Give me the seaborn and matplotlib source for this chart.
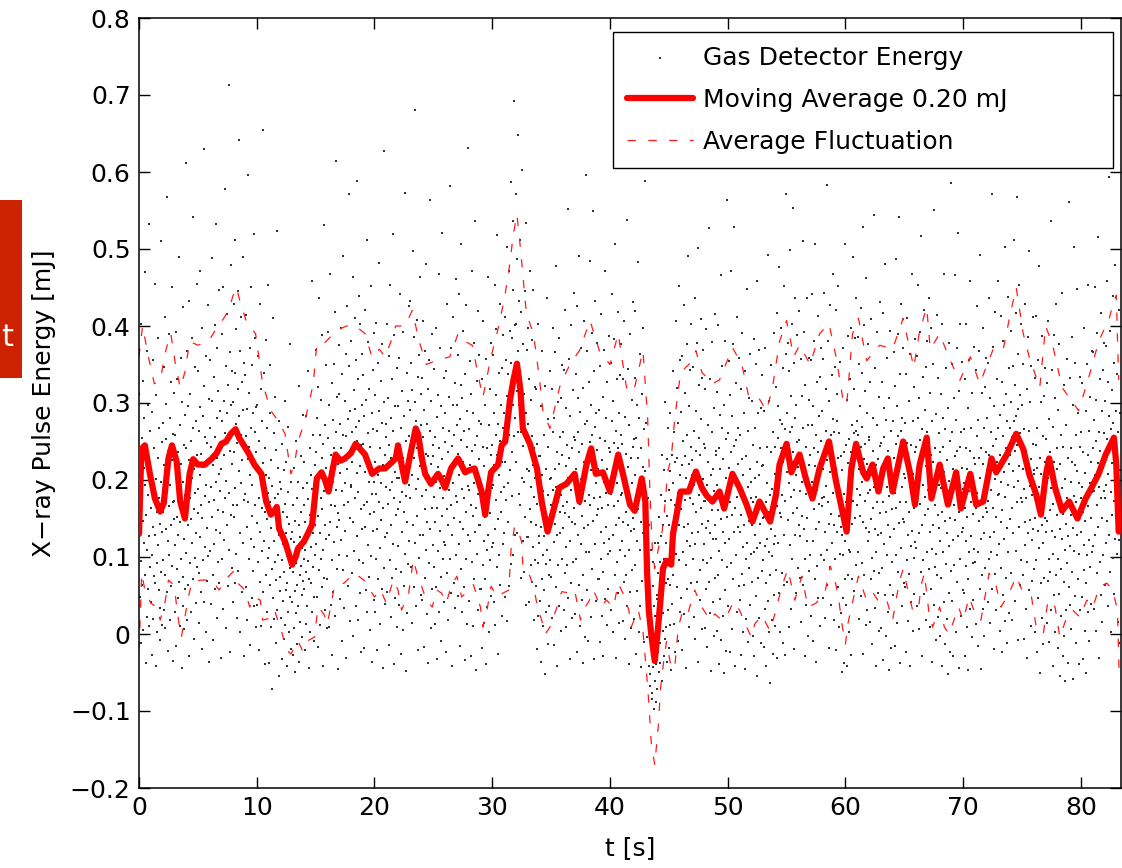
import numpy as np
import pandas as pd
import matplotlib
matplotlib.use("Agg")
import matplotlib.pyplot as plt
from matplotlib.patches import Rectangle
import seaborn as sns

# Gas detector shot energies in µJ, 36 recorded shots per second, one row per second
shots_per_second = 36
shots_by_second = [
    [135, 312, 48, 226, 171, -12, 402, 95, 254, 188, 63, 147, 329, 5, 216, 118, 281, 470, 76, 193, -38, 240, 155, 367, 22, 109, 298, 181, 58, 233, 532, 127, 10, 264, 199, 87],
    [214, 41, 163, -27, 288, 102, 356, 139, 19, 75, 241, 187, 455, 66, 128, -41, 201, 310, 92, 158, 3, 229, 115, 384, 57, 176, 268, 34, 143, -8, 197, 511, 81, 132, 249, 12],
    [96, 274, 158, 31, 347, 219, 412, 77, 185, 8, 253, 136, 299, 54, 202, 568, 121, 238, -22, 166, 389, 103, 281, 18, 194, 327, 142, 62, 226, 451, 88, 171, -35, 260, 149, 313],
    [173, 29, 258, 116, 392, -16, 207, 84, 331, 152, 47, 236, 129, 490, 68, 189, 272, 11, 145, 358, 98, 221, -44, 164, 301, 74, 198, 425, 37, 246, 123, 6, 285, 181, 59, 612],
    [242, 105, 367, 18, 189, 296, 141, 63, 433, 226, -29, 177, 312, 92, 251, 149, 28, 384, 203, 118, 541, 71, 268, 162, -6, 214, 347, 99, 183, 40, 276, 131, 455, 87, 232, 157],
    [188, 341, 79, 263, 14, 207, 472, 126, 295, 55, 234, 168, 398, -19, 151, 283, 96, 217, 630, 42, 322, 179, 113, 256, 3, 194, 361, 138, 69, 248, 427, 101, 226, -37, 305, 172],
    [267, 108, 356, 191, 39, 243, 488, 152, 302, 76, 219, -8, 334, 174, 117, 401, 256, 58, 198, 533, 135, 281, 21, 229, 372, 161, 94, 315, 208, 447, 66, 186, 290, 131, -31, 245],
    [214, 389, 97, 276, 158, 451, 33, 302, 233, 122, 578, 261, 176, 348, 8, 199, 415, 287, 141, 62, 324, 252, 713, 183, 109, 366, -24, 238, 297, 154, 479, 86, 221, 342, 167, 41],
    [301, 152, 428, 237, 66, 339, 189, 512, 273, 104, 396, 21, 248, 167, 445, 318, 82, 212, 641, 283, 131, 367, 3, 259, 412, 196, 55, 327, 226, 489, 118, 291, 174, -28, 352, 243],
    [182, 336, 61, 257, 414, 139, 292, 18, 227, 596, 171, 98, 313, 243, -14, 372, 206, 124, 451, 268, 47, 193, 349, 153, 82, 287, 221, 519, 113, 36, 262, 384, 168, 295, 9, 236],
    [144, 297, 38, 212, 361, 93, 176, -21, 251, 132, 429, 67, 198, 318, 11, 163, 277, 108, 655, 222, 54, 186, 339, 121, -39, 241, 158, 382, 77, 206, 29, 268, 149, 453, 99, 183],
    [203, -38, 112, 287, 64, 171, 349, 9, 138, 226, 85, -71, 192, 411, 47, 158, 261, 121, 19, 308, 176, 94, -12, 239, 70, 147, 523, 31, 215, 103, 182, -55, 276, 128, 56, 198],
    [74, 188, 21, 139, -33, 96, 247, 158, 43, 117, -6, 213, 81, 169, 302, 12, 131, 57, 224, 101, -41, 152, 66, 184, 29, 269, 108, 3, 143, 86, 377, 48, 197, 124, -19, 92],
    [133, 42, -27, 168, 81, 215, 8, 119, 56, -49, 147, 92, 251, 27, 176, 63, -13, 104, 198, 36, 141, 322, -36, 77, 126, 15, 231, 88, 159, -4, 112, 51, 189, 69, 284, 97],
    [167, 58, 224, 109, -21, 146, 283, 81, 13, 196, 124, 37, 342, 95, 175, -44, 138, 71, 241, 154, 2, 113, 207, 66, 188, 459, 28, 131, 259, 87, -9, 162, 48, 219, 103, 141],
    [236, 117, 369, 48, 192, 281, -17, 153, 321, 83, 209, 436, 131, 12, 258, 176, 97, 304, 228, 61, 388, 162, -41, 247, 109, 186, 531, 73, 271, 142, 31, 216, 349, 124, 197, 8],
    [71, 254, 183, 392, 128, 9, 297, 211, 146, 467, 38, 233, 168, 326, 96, -27, 278, 197, 54, 351, 241, 119, 418, 166, 23, 262, 187, 614, 84, 308, 139, -46, 221, 157, 375, 102],
    [312, 148, 46, 273, 209, 397, 122, 241, -9, 186, 338, 259, 83, 491, 167, 228, 34, 302, 196, 134, 363, 257, -31, 214, 426, 101, 279, 172, 62, 348, 233, 571, 151, 17, 289, 191],
    [193, 381, 262, 79, 224, 463, 146, -2, 317, 238, 108, 292, 411, 177, 36, 269, 356, 209, 588, 127, 251, 18, 331, 184, 439, 96, 277, 218, 53, 402, 162, 246, -24, 298, 137, 364],
    [247, 92, 336, 168, -18, 283, 211, 421, 139, 57, 304, 229, 172, 512, 28, 261, 116, 379, 198, 74, 318, 243, 5, 156, 452, 219, 101, 287, 182, -37, 343, 134, 266, 44, 197, 391],
    [158, 29, 311, 223, 97, 404, 182, 263, -21, 137, 352, 206, 71, 289, 171, 482, 112, 241, 13, 328, 196, 148, 377, 58, 274, 219, -44, 164, 301, 86, 627, 233, 126, 39, 256, 191],
    [273, 131, 402, 54, 218, 307, 169, -14, 246, 361, 96, 187, 453, 22, 281, 142, 229, 331, 73, 198, 519, 117, 264, -39, 176, 388, 211, 47, 296, 155, 237, 84, 346, 9, 203, 162],
    [114, 296, 203, 38, 359, 172, 441, 241, 81, -26, 267, 184, 316, 133, 5, 228, 392, 159, 62, 283, 214, 573, 104, 251, 179, -48, 339, 146, 27, 303, 222, 91, 426, 193, 257, 121],
    [291, 176, 433, 87, 248, 352, 14, 206, 317, 142, 497, 263, 61, 386, 229, 118, 301, 681, 188, 37, 276, 408, 153, 242, -21, 334, 201, 99, 362, 257, 129, 463, 218, 51, 312, 271],
    [179, 332, 44, 256, 128, 407, 213, -17, 291, 162, 73, 368, 234, 109, 481, 187, 26, 273, 145, 318, 231, -38, 199, 356, 92, 264, 563, 137, 8, 302, 221, 164, 389, 58, 246, 116],
    [231, 87, 178, 344, 13, 256, 146, 397, 198, 61, 282, -33, 163, 311, 217, 108, 468, 29, 241, 134, 372, 189, 74, 296, -9, 153, 227, 521, 97, 268, 176, 41, 333, 205, 119, 249],
    [116, 287, 203, -24, 341, 162, 79, 429, 236, 141, 18, 308, 187, 263, 97, 582, 214, 53, 371, 168, 244, -41, 129, 297, 196, 412, 66, 258, 151, 34, 326, 221, 103, 461, 179, 272],
    [298, 171, 49, 362, 234, 117, 441, 207, -16, 279, 146, 323, 84, 252, 506, 188, 28, 307, 223, 136, 393, 61, 264, 176, -34, 338, 211, 97, 427, 159, 243, 13, 289, 192, 631, 128],
    [187, 43, 266, 354, 121, 219, -29, 312, 168, 94, 471, 238, 153, 11, 287, 196, 378, 72, 246, 133, 536, 209, -47, 163, 329, 257, 104, 419, 182, 31, 276, 227, 142, 362, 58, 201],
    [142, 273, 58, 196, 331, -18, 167, 243, 89, 406, 121, 14, 218, 152, 297, 71, -39, 186, 357, 109, 241, 35, 463, 174, 128, 271, 2, 203, 318, 96, 157, 49, 232, 378, 113, 189],
    [246, 118, 362, 193, 41, 287, 219, 453, 137, 12, 311, 258, 174, 396, 87, 232, 518, 149, -26, 273, 206, 339, 103, 251, 63, 428, 184, 297, 159, 24, 346, 223, 117, 388, 268, 191],
    [287, 131, 412, 223, 48, 356, 262, 174, 503, 17, 309, 196, 338, 146, 471, 259, 62, 394, 301, 213, 587, 91, 352, 236, 384, 179, 536, 298, 103, 447, 343, 257, 692, 128, 401, 281],
    [402, 223, 571, 316, 131, 487, 368, 262, 648, 182, 433, 297, 341, 168, 512, 262, 73, 418, 309, 203, 603, 121, 376, 244, 197, 312, 81, 446, 263, 152, 534, 38, 287, 214, 369, 126],
    [273, 126, 398, 212, 41, 331, 251, 162, 472, 89, 304, 191, 146, 257, 68, 382, 219, 113, 447, 18, 241, 178, 321, 96, 203, 62, 318, 141, -19, 247, 169, 92, 402, 24, 231, 127],
    [118, 231, 43, 172, 296, -36, 139, 207, 71, 368, 102, 11, 186, 127, 259, 57, -52, 163, 322, 91, 214, 28, 437, 152, 109, 243, -13, 181, 279, 76, 134, 37, 201, 341, 96, 168],
    [203, 74, 318, 156, 21, 262, 187, 397, 119, -14, 281, 214, 143, 366, 61, 191, 478, 128, -41, 237, 172, 301, 89, 221, 36, 384, 159, 256, 131, 4, 307, 181, 97, 349, 233, 166],
    [138, 262, 196, 31, 343, 157, 79, 421, 218, 113, 9, 294, 171, 246, 89, 552, 203, 47, 357, 152, 229, -32, 121, 283, 187, 401, 66, 241, 146, 21, 317, 208, 94, 443, 163, 256],
    [252, 143, 26, 338, 214, 97, 426, 181, -23, 262, 128, 306, 63, 236, 491, 169, 11, 288, 201, 117, 371, 44, 247, 153, -38, 319, 188, 76, 407, 138, 224, -4, 273, 173, 596, 107],
    [206, 57, 277, 367, 141, 232, -9, 327, 181, 106, 484, 249, 167, 22, 298, 213, 391, 84, 258, 147, 549, 221, -33, 176, 342, 269, 117, 432, 196, 43, 287, 239, 154, 378, 71, 214],
    [162, 291, 71, 207, 348, -11, 178, 254, 98, 416, 132, 23, 226, 163, 308, 81, -29, 197, 369, 118, 251, 46, 472, 183, 139, 281, 12, 214, 327, 104, 168, 59, 241, 387, 123, 199],
    [237, 108, 352, 182, 31, 276, 209, 441, 128, 3, 302, 248, 166, 383, 77, 221, 507, 141, -31, 263, 196, 331, 94, 242, 53, 418, 173, 287, 151, 14, 336, 213, 109, 377, 258, 181],
    [121, 247, 183, 17, 331, 146, 68, 407, 206, 101, -6, 282, 159, 234, 77, 538, 191, 36, 344, 141, 217, -39, 109, 271, 176, 389, 54, 228, 134, 8, 304, 196, 83, 431, 151, 243],
    [253, 136, 19, 332, 207, 89, 419, 174, -26, 254, 121, 298, 56, 229, 483, 162, 3, 281, 194, 109, 364, 37, 241, 146, -43, 312, 181, 69, 397, 131, 217, -11, 266, 166, 588, 99],
    [212, 98, 274, 141, 53, 127, -4, 176, 61, 83, -41, 142, 12, -67, 47, -52, 109, -18, 21, -84, 11, -76, 62, -43, -8, 94, -97, -21, 37, -61, 23, 118, -39, 4, -88, 51],
    [46, -71, 118, -23, 79, -49, 152, 7, -12, 93, -38, 181, 21, 127, -61, 64, 233, 4, 142, 27, 213, -29, 98, 173, -6, 301, 66, 118, 9, 227, -37, 153, 72, 268, 31, 187],
    [141, -18, 212, 63, 287, 12, 174, 96, -47, 233, 118, 39, 196, 77, 341, 129, 13, 262, 168, -24, 223, 104, 406, 151, 228, 61, 319, 183, -9, 274, 141, 452, 96, 207, 29, 356],
    [162, 288, 47, 219, 361, -21, 184, 251, 106, 427, 139, 26, 231, 174, 313, 89, -44, 203, 376, 121, 258, 58, 491, 187, 143, 296, 9, 221, 343, 114, 176, 66, 243, 402, 131, 207],
    [226, 98, 347, 169, 22, 263, 193, 436, 117, -7, 289, 238, 158, 378, 68, 213, 501, 133, -36, 254, 181, 324, 83, 232, 44, 409, 164, 279, 143, 6, 332, 201, 96, 369, 247, 173],
    [117, 241, 173, 8, 318, 138, 59, 396, 194, 92, -17, 271, 147, 223, 67, 527, 179, 27, 331, 131, 207, -48, 99, 262, 161, 379, 42, 214, 124, -3, 293, 186, 73, 416, 141, 233],
    [238, 123, 4, 314, 193, 77, 401, 161, -39, 241, 108, 284, 46, 214, 466, 149, -8, 267, 181, 96, 348, 24, 227, 133, -51, 297, 167, 57, 381, 118, 203, -22, 253, 152, 563, 87],
    [189, 37, 261, 354, 124, 216, -23, 311, 171, 92, 472, 236, 154, 6, 283, 199, 377, 71, 244, 132, 529, 206, -41, 163, 326, 252, 103, 412, 178, 28, 268, 221, 139, 358, 62, 196],
    [132, 259, 44, 183, 318, -27, 154, 227, 78, 391, 113, 2, 206, 141, 287, 63, -46, 173, 341, 97, 231, 19, 448, 162, 118, 263, -11, 191, 306, 86, 147, 38, 214, 363, 104, 176],
    [197, 68, 302, 141, -3, 246, 171, 383, 106, -29, 268, 202, 128, 351, 49, 178, 459, 112, -54, 223, 158, 287, 73, 207, 21, 369, 143, 241, 118, -12, 294, 166, 82, 336, 218, 151],
    [96, 219, 152, -17, 289, 114, 33, 371, 171, 66, -41, 243, 123, 196, 43, 492, 158, 2, 303, 107, 181, -63, 76, 237, 136, 349, 18, 188, 101, -26, 262, 161, 51, 391, 117, 208],
    [243, 127, 11, 321, 198, 83, 417, 166, -31, 254, 118, 296, 53, 221, 476, 157, 2, 278, 241, 152, 398, 79, 273, 181, -12, 346, 224, 129, 452, 64, 266, 173, -27, 364, 233, 571],
    [211, 67, 287, 378, 148, 243, 9, 341, 196, 116, 499, 262, 178, 32, 309, 224, 403, 97, 269, 157, 553, 236, -19, 187, 352, 281, 129, 437, 206, 53, 298, 249, 164, 388, 86, 227],
    [217, 141, 419, 252, 73, 186, 127, 357, 231, 16, 309, 153, 197, 511, 63, 268, 136, 392, 211, -28, 98, 323, 182, 243, 38, 151, 437, 121, 271, 194, -2, 358, 219, 82, 304, 178],
    [233, 103, 356, 174, 24, 271, 198, 442, 121, -9, 296, 242, 162, 381, 72, 218, 507, 136, -37, 258, 187, 327, 88, 236, 47, 413, 169, 283, 146, 11, 334, 207, 102, 372, 251, 177],
    [166, 289, 214, 47, 357, 178, 96, 443, 241, 133, 21, 318, 192, 263, 109, 583, 226, 64, 381, 171, 248, -18, 143, 302, 211, 427, 87, 258, 156, 38, 336, 233, 118, 467, 183, 279],
    [262, 141, 18, 347, 219, 97, 421, 188, -21, 276, 133, 312, 61, 228, 452, 153, 9, 261, 183, 104, 353, 27, 231, 139, -49, 213, 128, 47, 371, 103, 182, -38, 236, 141, 506, 71],
    [121, 246, 38, 171, 304, -41, 147, 222, 76, 387, 109, 3, 253, 186, 331, 107, -27, 236, 397, 143, 271, 72, 489, 208, 173, 318, 56, 261, 384, 151, 229, 89, 263, 437, 168, 276],
    [188, 258, 386, 107, 214, 351, 19, 153, 296, 181, 423, 49, 243, 92, 339, 197, 269, -26, 146, 528, 227, 77, 401, 173, 247, 316, 12, 138, 462, 221, 287, 31, 183, 377, 121, 252],
    [133, 256, 187, 16, 327, 149, 72, 409, 206, 99, -13, 281, 163, 238, 82, 544, 191, 34, 346, 137, 219, -42, 106, 272, 171, 392, 53, 227, 128, 4, 308, 197, 79, 431, 157, 244],
    [248, 131, 8, 327, 203, 86, 417, 172, -34, 256, 117, 293, 51, 223, 481, 158, -3, 278, 191, 103, 359, 29, 238, 142, -47, 306, 179, 64, 393, 126, 212, -18, 263, 162, 607, 93],
    [203, 51, 276, 366, 136, 228, -16, 322, 183, 103, 487, 247, 164, 14, 296, 211, 389, 81, 257, 144, 541, 218, -38, 172, 338, 264, 112, 428, 191, 37, 281, 233, 149, 371, 66, 208],
    [146, 274, 61, 203, 338, -23, 171, 248, 96, 411, 128, 17, 221, 159, 302, 78, -41, 193, 364, 114, 246, 41, 467, 178, 134, 276, 4, 208, 321, 99, 163, 52, 236, 383, 119, 196],
    [243, 112, 361, 187, 36, 281, 214, 453, 131, 7, 306, 252, 169, 392, 81, 224, 517, 142, -29, 266, 193, 334, 96, 241, 52, 421, 178, 291, 154, 18, 347, 218, 106, 381, 262, 187],
    [249, 162, 436, 84, 202, 313, 9, 133, 232, 58, 397, 176, 277, 111, -37, 223, 141, 351, 38, 196, 551, 87, 242, 168, 286, -8, 104, 211, 414, 76, 154, 333, 22, 193, 261, 138],
    [236, 121, -2, 312, 189, 73, 402, 158, -41, 243, 106, 281, 41, 211, 468, 147, -13, 266, 179, 91, 346, 19, 226, 131, -52, 294, 166, 53, 378, 114, 199, -24, 251, 151, 586, 82],
    [193, 43, 262, 351, 122, 214, -28, 307, 167, 89, 466, 231, 148, 3, 278, 191, 371, 68, 238, 127, 521, 197, -44, 158, 316, 243, 98, 403, 173, 24, 262, 216, 133, 353, 57, 188],
    [138, 266, 53, 196, 331, -29, 163, 241, 88, 402, 121, 9, 214, 152, 294, 71, -47, 186, 356, 107, 238, 33, 458, 171, 127, 268, -4, 201, 313, 92, 156, 44, 228, 373, 111, 189],
    [221, 94, 343, 163, 13, 257, 183, 426, 107, -16, 278, 228, 147, 367, 58, 202, 492, 124, -46, 242, 171, 313, 77, 221, 33, 398, 152, 268, 131, -3, 321, 188, 86, 358, 236, 163],
    [158, 281, 213, 41, 352, 173, 97, 437, 232, 126, 14, 306, 187, 262, 107, 571, 218, 59, 373, 163, 244, -19, 133, 296, 201, 418, 78, 253, 152, 31, 331, 223, 103, 458, 181, 268],
    [117, 642, 182, 284, 4, 233, 146, 413, 86, 198, 327, -24, 161, 257, 51, 381, 123, 211, 298, 17, 178, 503, 242, 73, 312, 138, 276, -12, 193, 438, 107, 221, 346, 27, 149, 267],
    [233, 79, 301, 393, 163, 256, 18, 348, 212, 131, 512, 276, 191, 43, 323, 238, 417, 108, 283, 172, 568, 246, -8, 199, 364, 292, 139, 453, 218, 63, 311, 261, 176, 402, 96, 236],
    [171, 298, 76, 214, 351, -6, 188, 266, 116, 428, 146, 32, 238, 177, 318, 93, -31, 206, 386, 131, 263, 57, 497, 192, 148, 301, 11, 227, 348, 122, 181, 69, 247, 412, 137, 213],
    [208, 84, 332, 151, 3, 246, 171, 413, 96, -23, 267, 216, 134, 356, 47, 191, 478, 112, -51, 229, 158, 301, 66, 208, 21, 387, 141, 257, 118, -13, 309, 176, 73, 346, 223, 151],
    [132, 253, 186, 14, 326, 147, 69, 407, 203, 97, -11, 279, 161, 236, 81, 537, 189, 31, 343, 134, 216, -41, 104, 269, 169, 388, 51, 224, 126, 2, 306, 194, 77, 428, 154, 241],
    [214, 97, -18, 291, 168, 52, 376, 136, -54, 221, 84, 258, 24, 189, 443, 124, -29, 243, 156, 68, 323, -3, 201, 109, -61, 271, 143, 31, 357, 92, 176, -38, 228, 127, 561, 61],
    [167, 38, 333, 114, 197, 241, 6, 154, 386, 81, 224, 297, 138, -58, 179, 503, 108, 219, 49, 352, 171, 258, -12, 129, 212, 448, 72, 148, 287, -39, 196, 104, 334, 243, 31, 176],
    [133, 262, 48, 191, 326, -33, 158, 236, 83, 397, 116, 4, 209, 147, 289, 66, -51, 181, 351, 102, 233, 28, 453, 166, 122, 263, -9, 196, 308, 87, 151, 39, 223, 368, 106, 184],
    [241, 114, 366, 186, 33, 278, 206, 451, 129, 4, 304, 251, 168, 391, 79, 222, 516, 139, -31, 262, 191, 331, 94, 238, 51, 417, 176, 289, 151, 16, 343, 217, 102, 378, 261, 186],
    [176, 303, 236, 63, 374, 194, 118, 458, 253, 147, 36, 327, 208, 283, 128, 593, 239, 81, 394, 184, 266, 2, 154, 317, 222, 439, 99, 274, 173, 52, 352, 244, 124, 479, 202, 289],
    [231, 104, 338, 167, 16, 262, 189, 421, 122, -12, 287, 213],
]

# Moving average of the shot energy [mJ]
t_avg = [0.0, 0.2, 0.5, 0.9, 1.35, 1.8, 2.1, 2.5, 2.8, 3.2, 3.5, 3.9, 4.3, 4.6, 5.0, 5.6,
         6.2, 6.6, 7.0, 7.4, 7.8, 8.2, 8.5, 8.9, 9.3, 9.8, 10.4, 10.8, 11.2, 11.5, 11.7, 11.9,
         12.4, 12.7, 13.0, 13.3, 13.5, 14.0, 14.3, 14.7, 15.1, 15.5, 15.8, 16.1, 16.4, 16.7,
         17.1, 17.5, 18.0, 18.4, 18.8, 19.2, 19.8, 20.4, 20.9, 21.4, 21.8, 22.0, 22.3, 22.6,
         23.0, 23.5, 23.7, 24.0, 24.3, 24.8, 25.4, 25.7, 26.0, 26.5, 27.1, 27.7, 28.1, 28.5,
         29.1, 29.4, 29.7, 29.9, 30.5, 30.8, 31.1, 31.5, 31.8, 32.1, 32.4, 32.6, 33.2, 33.8,
         34.2, 34.7, 35.1, 35.7, 36.3, 37.0, 37.4, 38.0, 38.4, 38.8, 39.4, 40.0, 40.7, 41.1,
         41.7, 42.1, 42.7, 43.0, 43.15, 43.3, 43.5, 43.8, 44.05, 44.3, 44.5, 44.8, 45.2, 45.35,
         45.6, 46.0, 46.7, 47.3, 47.8, 48.2, 48.7, 49.3, 49.7, 50.4, 51.0, 51.6, 52.1, 52.7,
         53.3, 53.6, 54.1, 54.4, 55.0, 55.4, 56.1, 56.7, 57.2, 57.8, 58.6, 59.2, 59.8, 60.1,
         60.5, 60.9, 61.5, 61.8, 62.3, 62.8, 63.2, 63.6, 64.0, 64.9, 65.5, 65.9, 66.3, 66.9,
         67.3, 68.0, 68.7, 69.4, 69.8, 70.6, 71.1, 71.7, 72.4, 72.8, 73.7, 74.5, 75.1, 75.6,
         76.2, 76.6, 77.0, 77.3, 77.8, 78.4, 79.0, 79.7, 80.4, 80.9, 81.5, 82.1, 82.8, 83.0,
         83.1, 83.2]
avg = [0.13, 0.24, 0.245, 0.21, 0.176, 0.159, 0.17, 0.228, 0.245, 0.224, 0.172, 0.15, 0.208,
       0.227, 0.22, 0.22, 0.228, 0.235, 0.247, 0.25, 0.26, 0.266, 0.255, 0.245, 0.235, 0.22,
       0.208, 0.172, 0.155, 0.16, 0.165, 0.137, 0.12, 0.105, 0.09, 0.10, 0.111, 0.12, 0.129,
       0.142, 0.202, 0.21, 0.20, 0.185, 0.21, 0.233, 0.225, 0.228, 0.235, 0.247, 0.24, 0.233,
       0.208, 0.215, 0.215, 0.222, 0.228, 0.245, 0.22, 0.198, 0.23, 0.267, 0.26, 0.23, 0.208,
       0.195, 0.208, 0.20, 0.19, 0.215, 0.228, 0.21, 0.213, 0.215, 0.185, 0.155, 0.19, 0.21,
       0.22, 0.245, 0.25, 0.303, 0.33, 0.351, 0.316, 0.267, 0.247, 0.215, 0.172, 0.133, 0.155,
       0.19, 0.195, 0.208, 0.172, 0.22, 0.241, 0.208, 0.21, 0.185, 0.233, 0.208, 0.168, 0.16,
       0.202, 0.172, 0.08, 0.03, 0.0, -0.035, 0.003, 0.046, 0.085, 0.095, 0.09, 0.13, 0.15,
       0.185, 0.185, 0.211, 0.19, 0.18, 0.172, 0.185, 0.163, 0.208, 0.19, 0.168, 0.146, 0.172,
       0.155, 0.146, 0.181, 0.22, 0.247, 0.21, 0.233, 0.198, 0.176, 0.215, 0.25, 0.198, 0.155,
       0.133, 0.215, 0.247, 0.21, 0.202, 0.22, 0.185, 0.215, 0.228, 0.185, 0.25, 0.208, 0.168,
       0.22, 0.255, 0.176, 0.22, 0.168, 0.21, 0.163, 0.208, 0.168, 0.172, 0.228, 0.21, 0.233,
       0.26, 0.24, 0.208, 0.181, 0.155, 0.205, 0.228, 0.19, 0.16, 0.172, 0.15, 0.176, 0.19,
       0.208, 0.233, 0.255, 0.22, 0.176, 0.133]

# Upper fluctuation band (average + spread) [mJ]
t_up = [0.0, 0.3, 0.8, 1.3, 1.8, 2.3, 2.7, 3.1, 3.5, 3.9, 4.3, 5.0, 5.9, 6.7, 7.2, 7.6, 8.0,
        8.3, 8.6, 9.1, 9.9, 10.5, 11.2, 11.8, 12.4, 12.9, 13.2, 13.5, 14.1, 14.8, 15.1, 15.7,
        16.2, 16.8, 17.6, 18.4, 19.2, 19.8, 20.4, 20.9, 21.4, 21.8, 22.6, 23.2, 23.8, 24.4,
        25.2, 26.4, 27.1, 27.7, 28.3, 28.9, 29.2, 29.9, 30.4, 31.0, 31.4, 31.8, 32.1, 32.4,
        32.9, 33.5, 34.0, 34.3, 34.9, 35.4, 35.8, 36.6, 37.4, 38.3, 39.1, 40.0, 40.7, 41.4,
        42.0, 42.8, 43.2, 43.4, 43.6, 43.8, 44.1, 44.4, 44.6, 44.9, 45.2, 45.5, 45.8, 46.0,
        46.7, 47.3, 47.8, 48.7, 49.3, 50.4, 51.2, 51.8, 52.7, 53.3, 53.8, 54.4, 55.0, 55.6,
        56.1, 57.0, 57.8, 58.6, 59.2, 59.8, 60.1, 60.6, 61.1, 61.8, 62.9, 64.0, 64.9, 65.8,
        66.3, 66.9, 67.2, 68.0, 68.9, 69.7, 70.6, 71.4, 72.6, 73.4, 74.0, 74.5, 75.1, 75.6,
        76.5, 77.0, 77.6, 78.4, 79.2, 79.8, 80.4, 80.9, 81.5, 82.4, 82.8, 83.0, 83.2]
up = [0.36, 0.40, 0.36, 0.325, 0.33, 0.37, 0.39, 0.35, 0.32, 0.34, 0.38, 0.375, 0.38, 0.40,
      0.41, 0.42, 0.44, 0.45, 0.43, 0.407, 0.39, 0.325, 0.29, 0.277, 0.26, 0.208, 0.22, 0.25,
      0.277, 0.325, 0.377, 0.377, 0.385, 0.394, 0.40, 0.40, 0.39, 0.359, 0.37, 0.36, 0.38,
      0.40, 0.40, 0.42, 0.38, 0.35, 0.355, 0.36, 0.39, 0.38, 0.375, 0.329, 0.307, 0.36, 0.39,
      0.433, 0.47, 0.52, 0.545, 0.50, 0.416, 0.39, 0.333, 0.29, 0.267, 0.30, 0.325, 0.35,
      0.368, 0.407, 0.368, 0.35, 0.39, 0.32, 0.314, 0.368, 0.28, 0.18, 0.11, 0.085, 0.11,
      0.13, 0.155, 0.211, 0.228, 0.28, 0.316, 0.34, 0.35, 0.368, 0.34, 0.325, 0.33, 0.372,
      0.35, 0.307, 0.305, 0.29, 0.32, 0.38, 0.407, 0.36, 0.375, 0.35, 0.39, 0.403, 0.36,
      0.303, 0.297, 0.39, 0.41, 0.355, 0.375, 0.37, 0.41, 0.346, 0.394, 0.424, 0.37, 0.39,
      0.355, 0.329, 0.36, 0.325, 0.372, 0.37, 0.416, 0.45, 0.39, 0.36, 0.32, 0.40, 0.375,
      0.32, 0.303, 0.29, 0.32, 0.346, 0.38, 0.41, 0.433, 0.44, 0.33]

# Lower fluctuation band (average - spread) [mJ]
t_lo = [0.0, 0.1, 0.23, 0.5, 1.0, 1.5, 1.8, 2.2, 2.5, 2.8, 3.1, 3.4, 3.6, 3.9, 4.2, 4.5, 5.3,
        6.2, 6.8, 7.3, 8.0, 8.4, 9.0, 9.4, 9.8, 10.3, 10.5, 11.0, 11.5, 12.1, 12.5, 12.9, 13.5,
        13.9, 14.3, 14.9, 15.2, 15.7, 16.0, 16.6, 17.4, 18.3, 19.1, 20.0, 20.5, 21.0, 21.6,
        22.0, 22.3, 22.9, 23.3, 23.6, 24.0, 24.4, 24.9, 25.3, 25.7, 26.1, 26.5, 27.0, 27.4,
        28.0, 28.4, 29.0, 29.2, 29.5, 29.9, 30.4, 30.9, 31.4, 31.6, 31.9, 32.2, 32.5, 32.6,
        33.1, 33.5, 33.9, 34.2, 34.5, 34.9, 35.5, 35.9, 36.6, 37.0, 37.5, 37.7, 38.2, 38.6,
        39.2, 39.7, 40.3, 40.7, 41.1, 41.6, 41.8, 42.4, 42.8, 43.1, 43.3, 43.5, 43.8, 44.1,
        44.3, 44.6, 44.8, 45.2, 45.5, 45.8, 46.2, 46.6, 47.2, 47.8, 48.5, 48.9, 49.5, 50.0,
        50.5, 51.0, 51.5, 52.0, 52.3, 52.9, 53.6, 54.0, 54.6, 55.1, 55.7, 56.3, 56.8, 57.5,
        58.3, 58.7, 59.1, 59.4, 59.7, 60.0, 60.2, 60.7, 61.1, 61.7, 62.2, 62.9, 63.5, 64.0,
        64.6, 64.9, 65.3, 65.7, 66.2, 66.4, 66.7, 67.1, 67.4, 68.0, 68.4, 68.8, 69.6, 70.0,
        70.5, 71.1, 71.5, 72.2, 72.8, 73.2, 73.9, 74.5, 75.1, 75.8, 76.2, 76.8, 77.2, 77.8,
        78.2, 78.8, 79.3, 79.9, 80.5, 81.0, 81.6, 82.2, 82.7, 83.1, 83.25]
lo = [-0.02, 0.02, 0.079, 0.057, 0.04, 0.035, 0.018, 0.04, 0.07, 0.066, 0.048, 0.013, -0.004,
      0.022, 0.048, 0.068, 0.07, 0.07, 0.057, 0.07, 0.081, 0.066, 0.057, 0.035, 0.048, 0.044,
      0.018, 0.02, 0.031, 0.004, -0.02, -0.026, -0.009, -0.022, -0.009, -0.004, 0.035, 0.026,
      0.013, 0.062, 0.066, 0.079, 0.07, 0.048, 0.058, 0.04, 0.07, 0.057, 0.031, 0.053, 0.097,
      0.079, 0.062, 0.044, 0.035, 0.057, 0.053, 0.04, 0.062, 0.075, 0.048, 0.057, 0.064,
      0.035, 0.009, 0.026, 0.062, 0.048, 0.053, 0.057, 0.11, 0.14, 0.135, 0.119, 0.088,
      0.079, 0.062, 0.031, 0.018, 0.0, 0.009, 0.035, 0.055, 0.053, 0.057, 0.018, 0.031,
      0.042, 0.057, 0.035, 0.044, 0.035, 0.066, 0.053, 0.031, 0.009, 0.031, 0.004, -0.05,
      -0.09, -0.14, -0.17, -0.12, -0.07, -0.03, -0.01, -0.044, -0.044, 0.009, 0.031, 0.026,
      0.057, 0.035, 0.018, 0.026, 0.018, 0.026, 0.042, 0.031, 0.013, -0.004, 0.013, 0.024,
      0.004, 0.026, 0.062, 0.084, 0.044, 0.075, 0.035, 0.04, 0.057, 0.088, 0.07, 0.048,
      0.013, -0.013, 0.013, 0.048, 0.075, 0.048, 0.057, 0.04, 0.044, 0.018, 0.07, 0.084,
      0.057, 0.031, 0.031, 0.062, 0.079, 0.026, 0.009, 0.035, 0.009, 0.0, 0.035, 0.018,
      0.048, 0.022, 0.018, 0.079, 0.062, 0.035, 0.053, 0.075, 0.053, 0.048, 0.009, 0.0,
      0.044, 0.035, -0.004, 0.022, 0.031, 0.022, 0.044, 0.035, 0.062, 0.066, 0.057, 0.031,
      -0.057]

x_ticks = [0, 10, 20, 30, 40, 50, 60, 70, 80]
y_ticks = [-0.2, -0.1, 0.0, 0.1, 0.2, 0.3, 0.4, 0.5, 0.6, 0.7, 0.8]
y_tick_labels = ["\u22120.2", "\u22120.1", "0", "0.1", "0.2", "0.3", "0.4", "0.5", "0.6", "0.7", "0.8"]

# shot table: shot k of second s is recorded at s + k / shots_per_second
t_shot, e_shot = [], []
for sec, row in enumerate(shots_by_second):
    for k, v in enumerate(row):
        t_shot.append(sec + k / shots_per_second)
        e_shot.append(v / 1000.0)
shots = pd.DataFrame({"t": t_shot, "E": e_shot})

sns.set_theme(style="white")
plt.rcParams["font.family"] = ["DejaVu Sans"]
plt.rcParams["lines.scale_dashes"] = False
plt.rcParams["axes.unicode_minus"] = True

W, H = 1122, 868
fig = plt.figure(figsize=(W / 100, H / 100), dpi=100)
fig.patch.set_facecolor("white")
ax = fig.add_axes([139 / W, 1 - 788 / H, 982 / W, 770 / H])

sns.scatterplot(data=shots, x="t", y="E", ax=ax, marker="s", s=1.9, color="#333333",
                linewidth=0, label="Gas Detector Energy", zorder=1, legend=False)
dash = (0, (6, 9))
sns.lineplot(x=t_up, y=up, ax=ax, color="#ff1a1a", lw=0.9, linestyle=dash, sort=False,
             estimator=None, label="Average Fluctuation", zorder=2, legend=False)
sns.lineplot(x=t_lo, y=lo, ax=ax, color="#ff1a1a", lw=0.9, linestyle=dash, sort=False,
             estimator=None, zorder=2, legend=False)
sns.lineplot(x=t_avg, y=avg, ax=ax, color="red", lw=4.5, sort=False, estimator=None,
             label="Moving Average 0.20 mJ", zorder=3, legend=False)

ax.set_xlim(0, 83.4)
ax.set_ylim(-0.2, 0.8)
ax.set_xticks(x_ticks)
ax.set_xticklabels([str(v) for v in x_ticks])
ax.set_yticks(y_ticks)
ax.set_yticklabels(y_tick_labels)
ax.tick_params(direction="in", length=8, width=1, colors="black", labelsize=18,
               bottom=True, left=True, top=True, right=True, pad=6)
for sp in ax.spines.values():
    sp.set_color("black")
    sp.set_linewidth(1.1)
ax.grid(False)

ax.set_xlabel("t [s]", fontsize=18, color="black")
ax.set_ylabel("X\u2212ray Pulse Energy [mJ]", fontsize=18, color="black")
ax.xaxis.set_label_coords(0.5, -0.063)
ax.yaxis.set_label_coords(-0.085, 0.5)

handles, labels = ax.get_legend_handles_labels()
order = ["Gas Detector Energy", "Moving Average 0.20 mJ", "Average Fluctuation"]
hmap = dict(zip(labels, handles))
leg = ax.legend([hmap[l] for l in order], order, loc="upper left",
                bbox_to_anchor=((613 - 139) / 982, 1 - 14 / 770, 500 / 982, 0),
                mode="expand", borderaxespad=0, frameon=True, fancybox=False,
                framealpha=1, edgecolor="black", fontsize=18, handlelength=2.65,
                handletextpad=0.4, labelspacing=0.72, borderpad=0.56, markerscale=1.3)
leg.get_frame().set_linewidth(1.0)
for txt in leg.get_texts():
    txt.set_color("black")

# red tab at the left edge
fig.patches.append(Rectangle((0, 1 - 378 / H), 22 / W, 178 / H, transform=fig.transFigure,
                             facecolor="#cc2200", edgecolor="none", zorder=0))
fig.text(1 / W, 1 - 338 / H, "t", color="white", fontsize=22, va="center", ha="left")

fig.savefig("out.png", dpi=100)
